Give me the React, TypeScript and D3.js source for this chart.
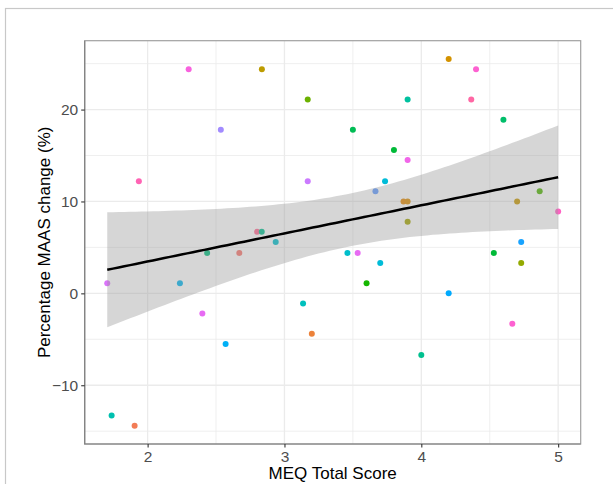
import { useEffect, useRef } from "react";
import * as d3 from "d3";

// MEQ total score per participant
const meqScore = [
  2.30, 2.835, 3.17, 2.535, 1.936, 3.17, 4.20, 4.40, 3.90, 4.365,
  4.60, 3.50, 3.80, 3.90, 3.735, 3.665, 3.87, 3.90, 3.90, 4.70,
  4.865, 5.00, 1.705, 2.236, 2.40, 2.57, 3.136, 3.20, 1.737, 1.905,
  2.435, 2.67, 2.80, 2.834, 2.936, 3.46, 3.535, 3.70, 3.60, 4.20,
  4.53, 4.73, 4.73, 4.665, 4.00,
];
// percentage MAAS change
const maasChange = [
  24.4, 24.4, 21.1, 17.8, 12.2, 12.2, 25.5, 24.4, 21.1, 21.1,
  18.9, 17.8, 15.6, 14.5, 12.2, 11.1, 10.0, 10.0, 7.8, 10.0,
  11.1, 8.9, 1.1, 1.1, -2.2, -5.5, -1.1, -4.4, -13.3, -14.4,
  4.4, 4.4, 6.7, 6.7, 5.6, 4.4, 4.4, 3.3, 1.1, 0.0,
  4.4, 5.6, 3.3, -3.3, -6.7,
];
// participant factor level (index into the hue palette)
const participant = [
  38, 7, 12, 32, 41, 34, 5, 39, 20, 42,
  17, 16, 15, 37, 24, 30, 3, 4, 9, 6,
  13, 40, 35, 26, 36, 27, 22, 2, 21, 1,
  18, 0, 43, 19, 23, 23, 36, 24, 14, 28,
  15, 29, 10, 39, 19,
];
const nLevels = 45;

const xTicks = [2, 3, 4, 5];
const yTicks = [-10, 0, 10, 20];

// R's hcl() (polar LUV) -> hex, like ggplot's hue palette
function hclR(h: number, c = 100, l = 65) {
  const hr = (h * Math.PI) / 180;
  const U = c * Math.cos(hr), V = c * Math.sin(hr);
  const Y = l > 8 ? Math.pow((l + 16) / 116, 3) : l / 903.3;
  const un = 0.1978398, vn = 0.4683363;
  const u = U / (13 * l) + un, v = V / (13 * l) + vn;
  const X = (9 * Y * u) / (4 * v);
  const Z = (3 * Y) / v - X / 3 - 5 * Y;
  const lin = [
    3.240479 * X - 1.53715 * Y - 0.498535 * Z,
    -0.969256 * X + 1.875992 * Y + 0.041556 * Z,
    0.055648 * X - 0.204043 * Y + 1.057311 * Z,
  ];
  const g = lin.map((t) => {
    const s = t <= 0.0031308 ? 12.92 * t : 1.055 * Math.pow(t, 1 / 2.4) - 0.055;
    return Math.round(Math.max(0, Math.min(1, s)) * 255);
  });
  return d3.rgb(g[0], g[1], g[2]).formatHex();
}

const App = () => {
  const ref = useRef<SVGSVGElement>(null);
  const width = 613;
  const height = 484;
  const margin = { top: 40.7, right: 32.3, bottom: 40, left: 84.7 };

  useEffect(() => {
    const svg = d3.select(ref.current);
    svg.selectAll("*").remove();

    const data = meqScore.map((x, i) => ({ x, y: maasChange[i], p: participant[i] }));
    const x0 = d3.min(meqScore)!, x1 = d3.max(meqScore)!;
    const y0 = d3.min(maasChange)!, y1 = d3.max(maasChange)!;
    const xPad = (x1 - x0) * 0.05, yPad = (y1 - y0) * 0.05;

    const x = d3.scaleLinear().domain([x0 - xPad, x1 + xPad]).range([margin.left, width - margin.right]);
    const y = d3.scaleLinear().domain([y0 - yPad, y1 + yPad]).range([height - margin.bottom, margin.top]);
    const hue = (k: number) => hclR(15 + (360 * k) / nLevels);

    // outer plot border
    svg.append("rect")
      .attr("x", 5.5).attr("y", 8.5)
      .attr("width", 640).attr("height", 520)
      .attr("fill", "white").attr("stroke", "#c8c8c8").attr("stroke-width", 1.2);

    const [xa, xb] = x.range();
    const [ya, yb] = y.range();

    // minor grid
    const xMinor = [2.5, 3.5, 4.5];
    const yMinor = [-15, -5, 5, 15, 25];
    const grid = svg.append("g");
    grid.selectAll(".xm").data(xMinor).join("line")
      .attr("x1", (d) => x(d)).attr("x2", (d) => x(d)).attr("y1", yb).attr("y2", ya)
      .attr("stroke", "#ebebeb").attr("stroke-width", 0.8);
    grid.selectAll(".ym").data(yMinor).join("line")
      .attr("y1", (d) => y(d)).attr("y2", (d) => y(d)).attr("x1", xa).attr("x2", xb)
      .attr("stroke", "#ebebeb").attr("stroke-width", 0.8);
    grid.append("g").selectAll("line").data(xTicks).join("line")
      .attr("x1", (d) => x(d)).attr("x2", (d) => x(d)).attr("y1", yb).attr("y2", ya)
      .attr("stroke", "#ebebeb").attr("stroke-width", 1.3);
    grid.append("g").selectAll("line").data(yTicks).join("line")
      .attr("y1", (d) => y(d)).attr("y2", (d) => y(d)).attr("x1", xa).attr("x2", xb)
      .attr("stroke", "#ebebeb").attr("stroke-width", 1.3);

    // points
    svg.append("g").selectAll("circle").data(data).join("circle")
      .attr("cx", (d) => x(d.x)).attr("cy", (d) => y(d.y))
      .attr("r", 3).attr("fill", (d) => hue(d.p));

    // linear fit with 95% CI
    const n = data.length;
    const mx = d3.mean(meqScore)!, my = d3.mean(maasChange)!;
    const sxx = d3.sum(meqScore, (v) => (v - mx) ** 2);
    const sxy = d3.sum(data, (d) => (d.x - mx) * (d.y - my));
    const slope = sxy / sxx;
    const icpt = my - slope * mx;
    const rss = d3.sum(data, (d) => (d.y - icpt - slope * d.x) ** 2);
    const s = Math.sqrt(rss / (n - 2));
    const tq = 2.0167; // qt(0.975, 43)
    const grid80 = d3.range(80).map((i) => x0 + ((x1 - x0) * i) / 79);
    const fit = grid80.map((gx) => {
      const yh = icpt + slope * gx;
      const se = s * Math.sqrt(1 / n + (gx - mx) ** 2 / sxx);
      return { gx, yh, lo: yh - tq * se, hi: yh + tq * se };
    });

    svg.append("path").datum(fit)
      .attr("d", d3.area<any>().x((d) => x(d.gx)).y0((d) => y(d.lo)).y1((d) => y(d.hi)))
      .attr("fill", "#999999").attr("fill-opacity", 0.4);
    svg.append("path").datum(fit)
      .attr("d", d3.line<any>().x((d) => x(d.gx)).y((d) => y(d.yh)))
      .attr("fill", "none").attr("stroke", "black").attr("stroke-width", 2.5);

    // panel border
    svg.append("rect")
      .attr("x", xa).attr("y", yb).attr("width", xb - xa).attr("height", ya - yb)
      .attr("fill", "none").attr("stroke", "#a0a0a0").attr("stroke-width", 1.2);
    svg.append("path")
      .attr("d", `M${xa},${yb}V${ya}H${xb}`)
      .attr("fill", "none").attr("stroke", "#808080").attr("stroke-width", 1.2);

    // axes
    const font = "Liberation Sans, Arial, Helvetica, sans-serif";
    const xAxis = svg.append("g").attr("transform", `translate(0,${ya})`)
      .call(d3.axisBottom(x).tickValues(xTicks).tickSize(3.5).tickPadding(3).tickFormat(d3.format("d")));
    const yAxis = svg.append("g").attr("transform", `translate(${xa},0)`)
      .call(d3.axisLeft(y).tickValues(yTicks).tickSize(3.5).tickPadding(3).tickFormat(d3.format("d")));
    [xAxis, yAxis].forEach((g) => {
      g.select(".domain").remove();
      g.selectAll(".tick line").attr("stroke", "#333333").attr("stroke-width", 1.1);
      g.selectAll(".tick text").attr("fill", "#4d4d4d").attr("font-size", 15.5).attr("font-family", font);
    });

    svg.append("text")
      .attr("x", (xa + xb) / 2).attr("y", 479)
      .attr("text-anchor", "middle").attr("font-size", 17).attr("font-family", font)
      .attr("fill", "black").text("MEQ Total Score");
    svg.append("text")
      .attr("transform", `translate(50,${(ya + yb) / 2}) rotate(-90)`)
      .attr("text-anchor", "middle").attr("font-size", 17).attr("font-family", font)
      .attr("fill", "black").text("Percentage MAAS change (%)");
  }, []);

  return (
    <svg
      ref={ref}
      width={width}
      height={height}
      style={{ position: "absolute", left: 0, top: 0, background: "white" }}
    />
  );
};

export default App;
